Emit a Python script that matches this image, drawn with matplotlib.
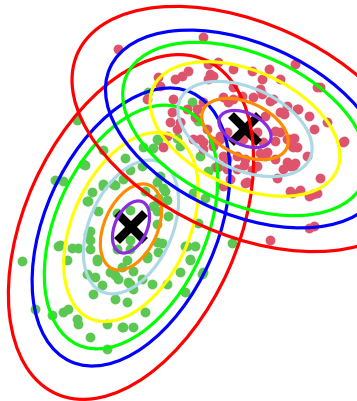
import numpy as np
import matplotlib
matplotlib.use("Agg")
import matplotlib.pyplot as plt
from matplotlib.patches import Ellipse

# Cluster A (green) samples
green_x = [77, 22, 55, 63, 85, 103, 88, 98, 115, 103, 60, 72, 78, 67, 90, 90, 97, 117,
           35, 52, 63, 68, 77, 78, 90, 107, 107, 95, 102, 93, 115, 115, 122,
           130, 142, 152, 133, 127, 145, 123, 133, 167, 185, 202,
           125, 130, 142, 160, 163, 158, 167, 157, 130, 177, 180, 158, 153, 193, 205, 198,
           185, 195, 190, 162, 130, 127, 147, 220, 208, 232, 192, 148, 198,
           87, 92, 103, 113, 123, 157, 165, 168, 157, 157, 158, 147, 130, 117, 88, 90, 97,
           122, 133, 87, 187, 190, 180, 158, 153, 145, 215, 203, 143, 157, 200, 118, 110,
           83, 58, 128]
green_y = [121, 262, 181, 182, 166, 151, 202, 212, 186, 187, 246, 249, 249, 261, 232, 241, 262, 214,
           310, 316, 313, 310, 320, 325, 338, 350, 325, 278, 286, 295, 300, 276, 328,
           285, 280, 285, 290, 303, 313, 328, 328, 285, 293, 275,
           159, 171, 167, 177, 189, 199, 201, 212, 211, 139, 147, 141, 149, 194, 199, 224,
           247, 247, 261, 244, 241, 261, 259, 167, 172, 244, 103, 93, 122,
           202, 193, 185, 185, 180, 183, 192, 217, 225, 243, 253, 257, 250, 250, 235, 250, 260,
           268, 272, 275, 247, 260, 273, 202, 207, 192, 168, 273, 148, 140, 157, 280, 273,
           165, 247, 283]

# Cluster B (red) samples
red_x = [203, 118, 175, 182, 188, 158, 160, 208, 218, 210, 208, 172, 180, 197, 195, 173, 233, 228, 223,
         295, 269, 252, 262, 280, 317, 262, 270, 297, 309, 284, 327, 265, 242, 314, 275,
         344, 320, 309, 317, 300, 292, 290, 295, 277, 245, 307, 292, 294, 314, 309, 270, 260, 252, 244, 275,
         213, 203, 207, 200, 170, 177, 187, 163, 167, 253, 260, 273, 287, 257, 263, 243, 220, 227, 280, 287,
         147, 237, 227, 217, 230, 247, 267, 233, 213, 320, 343, 293, 287, 290, 313,
         212, 233, 280, 298, 290, 297, 275, 283, 293, 220, 213, 193, 203, 223, 245, 237, 227, 223, 257, 265, 203]
red_y = [38, 50, 80, 77, 72, 78, 87, 65, 63, 75, 80, 113, 123, 110, 118, 100, 88, 103, 98,
         65, 70, 72, 80, 80, 88, 95, 102, 110, 117, 115, 123, 117, 97, 130, 132,
         142, 179, 197, 194, 191, 194, 167, 164, 179, 184, 157, 147, 139, 227, 229, 241, 154, 171, 166, 142,
         147, 143, 130, 140, 123, 130, 110, 148, 137, 98, 90, 100, 107, 133, 143, 140, 140, 133, 133, 140,
         100, 157, 160, 168, 180, 183, 153, 70, 77, 88, 143, 148, 163, 192, 195,
         77, 100, 113, 110, 140, 148, 160, 170, 167, 137, 142, 140, 150, 157, 160, 170, 170, 187, 167, 157, 103]

# Fitted mixture components
means = [(131, 228), (245, 130)]
covariances = [
    [[40.4 ** 2, -895.0], [-895.0, 56.8 ** 2]],
    [[57.0 ** 2, 921.0], [921.0, 40.4 ** 2]],
]

# Probability mass enclosed by each contour
levels = [0.10, 0.25, 0.50, 0.75, 0.90, 0.95, 0.99]
level_colors = ["blueviolet", "darkorange", "lightblue", "yellow", "lime", "blue", "red"]

fig = plt.figure(figsize=(3.57, 4.02), dpi=100)
ax = fig.add_axes([0, 0, 1, 1])
ax.set_xlim(0, 357)
ax.set_ylim(402, 0)
ax.axis("off")

ax.scatter(green_x, green_y, s=50, color="#5cc752", linewidths=0, zorder=1)
ax.scatter(red_x, red_y, s=50, color="#de546c", linewidths=0, zorder=1)

for mu in means:
    ax.plot(mu[0], mu[1], marker="x", color="black", markersize=20, mew=6, zorder=2)

for mu, cov in zip(means, covariances):
    vals, vecs = np.linalg.eigh(np.array(cov))
    order = vals.argsort()[::-1]
    vals, vecs = vals[order], vecs[:, order]
    angle = np.degrees(np.arctan2(vecs[1, 0], vecs[0, 0]))
    for p, c in zip(levels, level_colors):
        k = np.sqrt(-2.0 * np.log(1.0 - p))
        e = Ellipse(mu, 2 * k * np.sqrt(vals[0]), 2 * k * np.sqrt(vals[1]), angle=angle,
                    fill=False, edgecolor=c, linewidth=2.3, zorder=3)
        ax.add_patch(e)

fig.savefig("out.png", dpi=100)
